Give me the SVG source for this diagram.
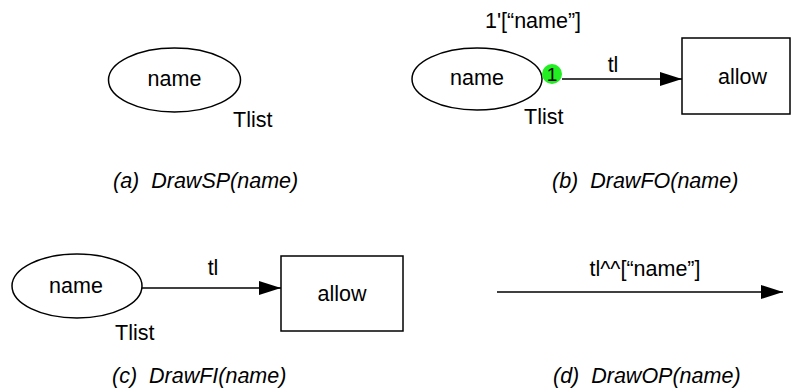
<svg xmlns="http://www.w3.org/2000/svg" width="791" height="391" viewBox="0 0 791 391">
<style>
text{font-family:"Liberation Sans",Arial,sans-serif;font-size:21.5px;fill:#000}
.c{font-style:italic}
.m{text-anchor:middle}
.sh{fill:#fff;stroke:#000;stroke-width:1.5}
.ln{stroke:#000;stroke-width:1.5;fill:none}
</style>
<defs>
<marker id="ar" viewBox="0 0 22 14" refX="22" refY="7" markerWidth="22" markerHeight="14" markerUnits="userSpaceOnUse" orient="auto">
<path d="M0,0 L22,7 L0,14 Z" fill="#000"/>
</marker>
</defs>
<g id="connectors">
<line class="ln" x1="562" y1="79" x2="682" y2="79" marker-end="url(#ar)"/>
<line class="ln" x1="142" y1="288" x2="281" y2="288" marker-end="url(#ar)"/>
<line class="ln" x1="497" y1="292" x2="783" y2="292" marker-end="url(#ar)"/>
<text class="m" x="613" y="72">tl</text>
<text class="m" x="213" y="275">tl</text>
<text class="m" x="645" y="276">tl^^[“name”]</text>
</g>
<g id="a-place">
<ellipse class="sh" cx="174.5" cy="80" rx="66" ry="32"/>
<text class="m" x="174.5" y="86">name</text>
<text x="233" y="127">Tlist</text>
</g>
<g id="b-place">
<ellipse class="sh" cx="477" cy="79" rx="65" ry="31"/>
<text class="m" x="477" y="85">name</text>
<text x="524" y="124">Tlist</text>
<text class="m" x="533" y="28">1'[“name”]</text>
</g>
<g id="b-token">
<circle cx="552" cy="74" r="10" fill="#22ee22"/>
<text class="m" x="552" y="81" style="font-size:19px">1</text>
</g>
<g id="b-allow">
<rect class="sh" x="682" y="38" width="108" height="76"/>
<text class="m" x="742.5" y="84">allow</text>
</g>
<g id="c-place">
<ellipse class="sh" cx="77" cy="286" rx="65" ry="32"/>
<text class="m" x="76" y="293">name</text>
<text x="115" y="340">Tlist</text>
</g>
<g id="c-allow">
<rect class="sh" x="281" y="256" width="122" height="75"/>
<text class="m" x="342" y="301">allow</text>
</g>
<g id="captions">
<text class="c" x="113" y="188" xml:space="preserve">(a)  DrawSP(name)</text>
<text class="c" x="552" y="188" xml:space="preserve">(b)  DrawFO(name)</text>
<text class="c" x="112" y="383" xml:space="preserve">(c)  DrawFI(name)</text>
<text class="c" x="553" y="383" xml:space="preserve">(d)  DrawOP(name)</text>
</g>
</svg>
